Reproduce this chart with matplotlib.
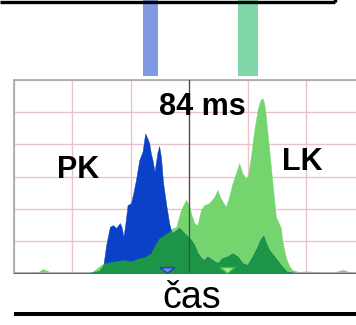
import numpy as np
import matplotlib
matplotlib.use('Agg')
import matplotlib.pyplot as plt
from matplotlib.lines import Line2D

# ---- data (time in ms relative to centre line, amplitude in grid units) ----
pk_t = [-150, -85.6, -77.1, -73.6, -71.1, -67.9, -65.1, -62.8, -59.3, -58.0, -56.3,
        -54.8, -52.8, -49.9, -47.9, -45.6, -42.8, -40.0, -37.7, -35.7, -34.2, -32.8,
        -31.4, -29.7, -27.1, -25.7, -24.2, -22.3, -19.4, -17.1, -14.8, -12.0, -8.6,
        -4.3, -0.9, 1.7, 4.3, 7.1, 10.0, 12.8, 15.7, 19.9, 24.2, 28.5, 32.8, 37.1,
        41.4, 45.6, 49.9, 54.2, 58.5, 60.8, 63.4, 65.7, 68.5, 73.6, 79.6, 83.9,
        94.2, 150]
pk_v = [0, 0, 0.06, 0.22, 0.87, 1.44, 1.49, 1.40, 1.55, 1.44, 1.13,
        1.49, 2.11, 2.17, 2.48, 2.89, 3.51, 3.77, 4.34, 4.18, 4.03, 3.72,
        3.51, 3.15, 3.77, 3.94, 3.61, 2.79, 2.06, 1.54, 1.23, 1.30, 1.40,
        1.24, 1.12, 1.02, 0.87, 0.62, 0.47, 0.40, 0.51, 0.40, 0.30, 0.46, 0.51, 0.61,
        0.51, 0.30, 0.25, 0.51, 0.82, 1.02, 1.16, 0.92, 0.71, 0.47, 0.19, 0.03,
        0, 0]

lk_t = [-150, -145.5, -137.0, -128.4, -125.6, -122.7, -118.4, -111.3, -101.3, -91.4,
        -82.8, -78.5, -74.2, -71.3, -64.2, -57.1, -48.8, -42.8, -37.7, -32.8, -30.0,
        -25.7, -21.4, -17.1, -13.7, -11.1, -7.1, -2.8, 0, 1.5, 4.3, 7.1, 10.0, 12.8,
        17.1, 21.4, 24.2, 26.5, 29.4, 31.4, 34.2, 37.1, 40.0, 42.8, 45.6, 48.5, 50.5,
        52.8, 55.7, 58.5, 60.8, 62.8, 64.2, 65.7, 68.5, 71.3, 74.2, 78.5, 79.6, 82.8,
        85.6, 88.2, 93.3, 102.7, 107.9, 113.9, 124.1, 130.7, 133.6, 137.0, 142, 150]
lk_v = [0, 0.01, 0.01, 0.04, 0.12, 0.09, 0.01, 0, 0, 0.01,
        0.04, 0.16, 0.27, 0.31, 0.36, 0.40, 0.37, 0.46, 0.50, 0.61, 0.82,
        1.08, 1.18, 1.28, 1.40, 1.43, 1.96, 2.27, 2.11, 1.86, 1.55, 1.49, 1.96, 2.11,
        2.17, 2.36, 2.58, 2.36, 2.17, 2.06, 2.37, 2.79, 3.10, 3.41, 3.10, 2.94, 3.04,
        3.61, 4.44, 5.06, 5.37, 5.43, 5.27, 4.85, 3.82, 2.79, 1.75, 1.40, 1.02, 0.47,
        0.22, 0.09, 0.04, 0.05, 0.03, 0, 0.02, 0.09, 0.08, 0.02, 0, 0]

bar_times = [-33.5, 50.5]          # reference marker positions (84 ms apart)
tri_times = [-19, 32]              # small triangles on baseline
series_labels = ['PK', 'LK']
delay_label = '84 ms'
xlabel = 'čas'

# ---- styles ----
C_BLUE = '#0a41c8'
C_LGREEN = '#74d46e'
C_DGREEN = '#1c9646'
C_GRID = '#ecc2ca'
FONT = ['Liberation Sans', 'DejaVu Sans']

W, H = 356, 325
fig = plt.figure(figsize=(W / 100, H / 100), dpi=100)
fig.patch.set_facecolor('white')
ax = fig.add_axes([14 / W, (H - 273) / H, 350.4 / W, 193 / H])
ax.set_xlim(-150, 150)
ax.set_ylim(0, 6)

ax.set_xticks(np.arange(-150, 151, 50))
ax.set_yticks(np.arange(0, 7, 1))
ax.grid(True, color=C_GRID, lw=1.0, zorder=0)
ax.set_axisbelow(True)
ax.tick_params(length=0, labelbottom=False, labelleft=False)
for s in ['left', 'top', 'bottom', 'right']:
    ax.spines[s].set_color('#a8a8a8')
    ax.spines[s].set_linewidth(1.2)

t = np.linspace(-150, 150, 3001)
pk = np.interp(t, pk_t, pk_v)
lk = np.interp(t, lk_t, lk_v)
ax.fill_between(t, 0, lk, color=C_LGREEN, lw=0.3, zorder=2)
ax.fill_between(t, 0, pk, color=C_BLUE, lw=0.3, zorder=3)
ax.fill_between(t, 0, np.minimum(pk, lk), color=C_DGREEN, lw=0.3, zorder=4)

ax.axvline(0, color='#4a4a4a', lw=0.9, zorder=5)

# marker bars above the plot
ax.bar(bar_times, [2.4, 2.4], bottom=6.12, width=[12.8, 17.1],
       color=['#7f99e3', '#80d8a8'], clip_on=False, zorder=1)

# small down-pointing triangles on the baseline
tri = [(-1, 0.4), (1, 0.4), (0, -0.4), (-1, 0.4)]
ax.scatter([tri_times[0]], [0.09], marker=tri, s=110, facecolor='#6f8ae6',
           edgecolor='#1f3fbf', lw=1.0, zorder=6, clip_on=False)
ax.scatter([tri_times[1]], [0.09], marker=tri, s=110, facecolor='#a8eca0',
           edgecolor='#3cc43c', lw=1.0, zorder=6, clip_on=False)

# labels
ax.text(10.9, 4.91, delay_label, ha='center', va='baseline', fontsize=22,
        fontweight='bold', family=FONT, zorder=7)
ax.text(-95.5, 2.95, series_labels[0], ha='center', va='baseline', fontsize=22,
        fontweight='bold', family=FONT, zorder=7)
ax.text(96.7, 3.2, series_labels[1], ha='center', va='baseline', fontsize=22,
        fontweight='bold', family=FONT, zorder=7)
fig.text(192 / W, (H - 308) / H, xlabel, ha='center', va='baseline',
         fontsize=27, family=FONT)

# frame lines
fig.add_artist(Line2D([0, 334.5 / W], [1 - 1.7 / H] * 2, transform=fig.transFigure,
                      color='black', lw=2.4, solid_capstyle='butt'))
fig.add_artist(Line2D([334.5 / W] * 2, [1 - 1.7 / H, 1.02], transform=fig.transFigure,
                      color='black', lw=2.4, solid_capstyle='butt'))
fig.add_artist(Line2D([14 / W, 1], [(H - 313.5) / H] * 2, transform=fig.transFigure,
                      color='black', lw=2.9, solid_capstyle='butt'))

fig.savefig('out.png', dpi=100)
